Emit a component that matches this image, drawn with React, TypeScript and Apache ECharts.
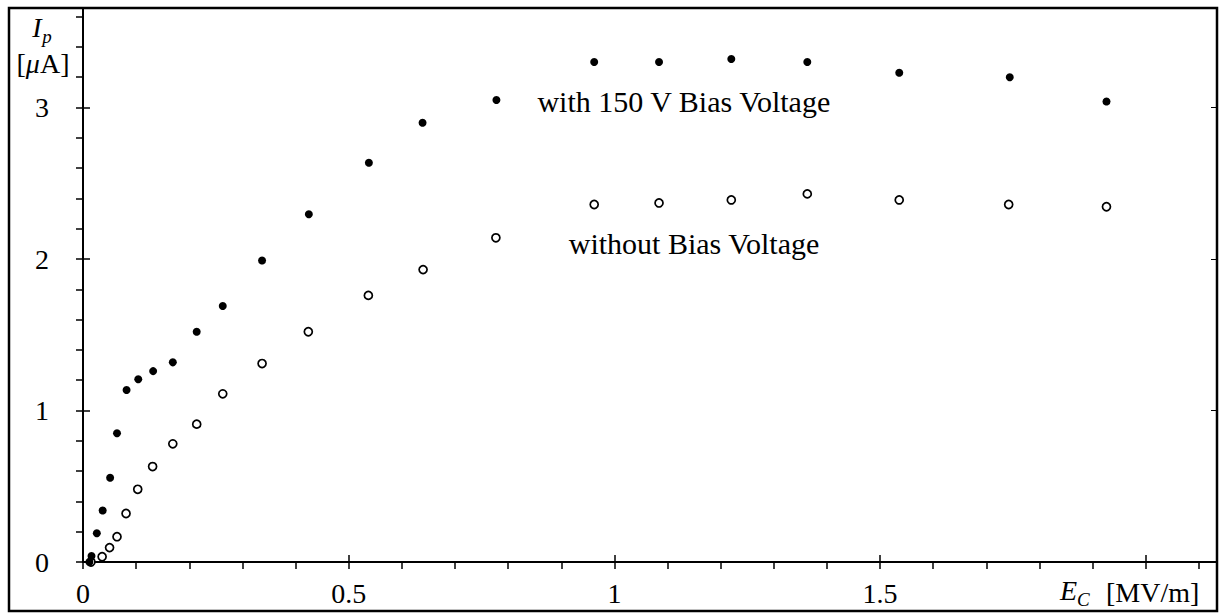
import React, { useEffect, useRef } from "react";
import * as echarts from "echarts";

// E_C [MV/m] and I_p [µA]
const withBiasX = [0.012, 0.016, 0.026, 0.037, 0.051, 0.064, 0.082, 0.104, 0.132, 0.169, 0.214, 0.263, 0.337, 0.425, 0.538, 0.639, 0.778, 0.962, 1.084, 1.22, 1.363, 1.536, 1.744, 1.926];
const withBiasY = [0.0, 0.04, 0.19, 0.34, 0.556, 0.85, 1.135, 1.206, 1.26, 1.318, 1.52, 1.69, 1.99, 2.295, 2.636, 2.9, 3.05, 3.3, 3.3, 3.32, 3.3, 3.23, 3.2, 3.04];
const noBiasX = [0.015, 0.036, 0.05, 0.064, 0.081, 0.103, 0.131, 0.169, 0.214, 0.263, 0.337, 0.424, 0.537, 0.64, 0.777, 0.962, 1.084, 1.22, 1.363, 1.536, 1.742, 1.926];
const noBiasY = [0.0, 0.035, 0.095, 0.167, 0.32, 0.48, 0.63, 0.78, 0.91, 1.11, 1.31, 1.52, 1.76, 1.93, 2.14, 2.36, 2.37, 2.39, 2.43, 2.39, 2.36, 2.345];

const xTickLabels = ["0", "0.5", "1", "1.5"];
const yTickLabels = ["0", "1", "2", "3"];
const X_MAX = 2.134;
const Y_MAX = 3.657;

const withBiasText = "with 150 V Bias Voltage";
const noBiasText = "without Bias Voltage";
const withBiasLabelIndex = 16;
const noBiasLabelIndex = 14;

const FONT = "'Liberation Serif', 'Times New Roman', serif";

function buildOption() {
  const fmt = (list: string[]) => (v: number) => {
    const s = String(Math.round(v * 10) / 10);
    return list.includes(s) ? s : "";
  };
  const tickStyle = { color: "#000", width: 1.5 };

  const makeLabel = (text: string, distance: number, dy: number) => ({
    show: true,
    formatter: text,
    position: "right",
    distance,
    offset: [0, dy],
    color: "#000",
    opacity: 1,
    fontSize: 30,
    fontFamily: FONT,
  });

  const withData = withBiasX.map((x, i) => {
    const item: any = { value: [x, withBiasY[i]] };
    if (i === withBiasLabelIndex) item.label = makeLabel(withBiasText, 37, 2);
    return item;
  });
  const noData = noBiasX.map((x, i) => {
    const item: any = { value: [x, noBiasY[i]] };
    if (i === noBiasLabelIndex) item.label = makeLabel(noBiasText, 68, 6);
    return item;
  });

  return {
    animation: false,
    backgroundColor: "#fff",
    grid: { left: 83, right: 3, top: 8, bottom: 52, containLabel: false },
    xAxis: [
      {
        type: "value",
        min: 0,
        max: X_MAX,
        interval: 0.1,
        position: "bottom",
        axisLine: { show: true, onZero: false, lineStyle: { color: "#000", width: 2 } },
        axisTick: { show: true, inside: false, length: 7, lineStyle: tickStyle },
        axisLabel: {
          formatter: fmt(xTickLabels),
          margin: 31,
          verticalAlign: "middle",
          color: "#000",
          fontSize: 28,
          fontFamily: FONT,
          showMaxLabel: false,
        },
        splitLine: { show: false },
      },
      {
        type: "value",
        min: 0,
        max: X_MAX,
        interval: 0.5,
        position: "bottom",
        axisLine: { show: false, onZero: false },
        axisTick: { show: true, inside: true, length: 7, lineStyle: tickStyle },
        axisLabel: { show: false },
        splitLine: { show: false },
      },
    ],
    yAxis: [
      {
        type: "value",
        min: 0,
        max: Y_MAX,
        interval: 0.2,
        position: "left",
        axisLine: { show: true, onZero: false, lineStyle: { color: "#000", width: 2 } },
        axisTick: { show: true, inside: false, length: 7, lineStyle: tickStyle },
        axisLabel: {
          formatter: fmt(yTickLabels),
          margin: 41,
          align: "center",
          color: "#000",
          fontSize: 28,
          fontFamily: FONT,
          showMaxLabel: false,
        },
        splitLine: { show: false },
      },
      {
        type: "value",
        min: 0,
        max: Y_MAX,
        interval: 1,
        position: "left",
        axisLine: { show: false, onZero: false },
        axisTick: { show: true, inside: true, length: 7, lineStyle: tickStyle },
        axisLabel: { show: false },
        splitLine: { show: false },
      },
      {
        type: "value",
        min: 0,
        max: Y_MAX,
        interval: 1,
        position: "right",
        axisLine: { show: false, onZero: false },
        axisTick: { show: true, inside: true, length: 6, lineStyle: { color: "#000", width: 1 } },
        axisLabel: { show: false },
        splitLine: { show: false },
      },
    ],
    series: [
      {
        name: "with 150 V Bias Voltage",
        type: "scatter",
        xAxisIndex: 0,
        yAxisIndex: 0,
        symbol: "circle",
        symbolSize: 8,
        silent: true,
        itemStyle: { color: "#000", opacity: 1 },
        data: withData,
        z: 3,
      },
      {
        name: "without Bias Voltage",
        type: "scatter",
        xAxisIndex: 0,
        yAxisIndex: 0,
        symbol: "circle",
        symbolSize: 8,
        silent: true,
        itemStyle: { color: "#fff", borderColor: "#000", borderWidth: 1.7, opacity: 1 },
        data: noData,
        z: 2,
      },
    ],
    graphic: [
      {
        type: "rect",
        silent: true,
        shape: { x: 9, y: 8, width: 1208, height: 603 },
        style: { fill: "none", stroke: "#000", lineWidth: 2.5 },
        z: 10,
      },
      {
        type: "text",
        x: 37,
        y: 27,
        style: {
          text: "I",
          fontFamily: FONT,
          fontSize: 28,
          fontStyle: "italic",
          fill: "#000",
          align: "center",
          verticalAlign: "middle",
          textAlign: "center",
          textVerticalAlign: "middle",
        },
      },
      {
        type: "text",
        x: 47,
        y: 36,
        style: {
          text: "p",
          fontFamily: FONT,
          fontSize: 19,
          fontStyle: "italic",
          fill: "#000",
          align: "center",
          verticalAlign: "middle",
          textAlign: "center",
          textVerticalAlign: "middle",
        },
      },
      {
        type: "text",
        x: 43,
        y: 63,
        style: {
          text: "{a|[}{m|\u03bc}{a|A]}",
          rich: {
            a: { fontFamily: FONT, fontSize: 28, color: "#000" },
            m: { fontFamily: FONT, fontSize: 28, fontStyle: "italic", color: "#000" },
          },
          fill: "#000",
          align: "center",
          verticalAlign: "middle",
          textAlign: "center",
          textVerticalAlign: "middle",
        },
      },
      {
        type: "text",
        x: 1060,
        y: 590,
        style: {
          text: "E",
          fontFamily: FONT,
          fontSize: 28,
          fontStyle: "italic",
          fill: "#000",
          align: "left",
          verticalAlign: "middle",
          textAlign: "left",
          textVerticalAlign: "middle",
        },
      },
      {
        type: "text",
        x: 1077,
        y: 599,
        style: {
          text: "C",
          fontFamily: FONT,
          fontSize: 19,
          fontStyle: "italic",
          fill: "#000",
          align: "left",
          verticalAlign: "middle",
          textAlign: "left",
          textVerticalAlign: "middle",
        },
      },
      {
        type: "text",
        x: 1106,
        y: 592,
        style: {
          text: "[MV/m]",
          fontFamily: FONT,
          fontSize: 28,
          fill: "#000",
          align: "left",
          verticalAlign: "middle",
          textAlign: "left",
          textVerticalAlign: "middle",
        },
      },
    ],
  };
}

export default function App() {
  const ref = useRef<HTMLDivElement>(null);
  useEffect(() => {
    document.body.style.margin = "0";
    if (!ref.current) return;
    const chart = echarts.init(ref.current, null, { renderer: "svg" });
    chart.setOption(buildOption() as any);
    return () => chart.dispose();
  }, []);
  return <div ref={ref} style={{ width: 1220, height: 614, background: "#fff" }} />;
}
